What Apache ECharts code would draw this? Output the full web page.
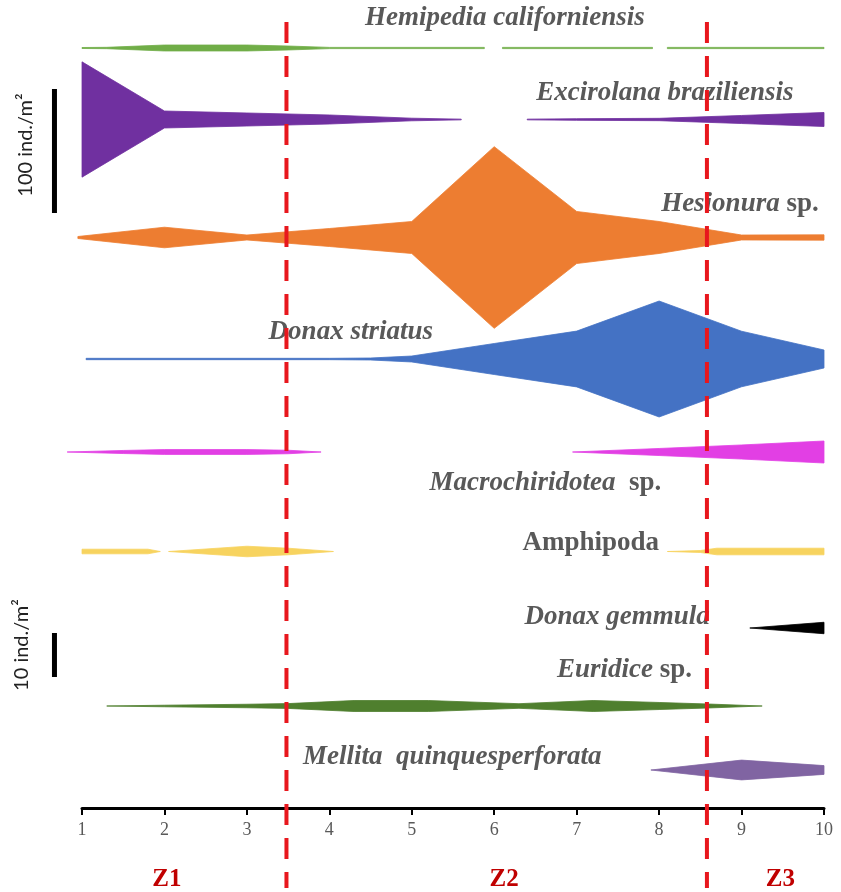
<!DOCTYPE html>
<html><head><meta charset="utf-8">
<script src="https://cdn.jsdelivr.net/npm/echarts@6/dist/echarts.min.js"></script>
<style>html,body{margin:0;padding:0;background:#fff}#c{width:841px;height:892px}</style>
</head><body><div id="c"></div>
<script>
// ---------- DATA (abundance, ind./m2, full kite width; null = gap) ----------
const tickLabels = ['1','2','3','4','5','6','7','8','9','10'];
const zoneNames = ['Z1','Z2','Z3'];
const zoneLabelX = [2.03, 6.12, 9.47];
const zoneBoundaries = [3.48, 8.58];

const hemipediaX = [1, 1.3, 2, 3, 3.5, 4, 5.88, 6, 6.1, 7.92, 8, 8.1, 10];
const hemipediaV = [0.8, 1.1, 4.8, 4.8, 3.2, 1, 1, null, 1, 1, null, 1, 1];

const excirolanaX = [1, 2, 3, 4, 5, 5.6, 6, 6.4, 7, 8, 9, 10];
const excirolanaV = [93, 13.7, 10.5, 7.3, 2.1, 0.6, null, 0.6, 1.3, 1.9, 6.5, 11.3];

const hesionuraX = [0.95, 2, 3, 4, 5, 6, 7, 8, 9, 10];
const hesionuraV = [1.6, 16.6, 4, 14.5, 25.8, 146.5, 42, 25.8, 4, 4.3];

const donaxStriatusX = [1.05, 4, 4.5, 5, 6, 7, 8, 9, 10];
const donaxStriatusV = [1.1, 1.1, 1.6, 4.8, 25, 45, 93.5, 44.8, 14.5];

const macroX = [0.82, 1.5, 2, 3, 3.5, 3.9, 5, 6.95, 8, 9, 10];
const macroV = [0, 0.7, 1.1, 1.1, 0.8, 0, null, 0, 1.6, 3.2, 5];

const amphipodaX = [1, 1.8, 1.95, 2, 2.05, 3, 3.5, 4.05, 6, 8.1, 8.5, 8.7, 10];
const amphipodaV = [1.05, 1.05, 0, null, 0, 2.4, 1.5, 0, null, 0, 0.45, 1.5, 1.5];

const donaxGemmulaX = [9.1, 10];
const donaxGemmulaV = [0, 2.6];

const euridiceX = [1.3, 2, 3, 3.5, 4.3, 5.2, 6.3, 7.2, 8, 8.6, 9.25];
const euridiceV = [0, 0.36, 0.8, 1.1, 2.5, 2.5, 1.05, 2.5, 1.6, 0.9, 0];

const mellitaX = [7.9, 9, 10];
const mellitaV = [0, 4.5, 2];

const scaleBarValues = [100, 10];
const scaleBarTexts = ['100 ind./m\u00B2', '10 ind./m\u00B2'];

// ---------- LAYOUT / STYLE ----------
const unitPerInd = {top: 1.24, bottom: 4.4};   // y-axis units per ind./m2
const species = [
  {xs: hemipediaX, vs: hemipediaV, row: 48, scale: 'top', color: '#70ad47',
   label: '{i|Hemipedia californiensis}', lx: 6.13, ly: 18},
  {xs: excirolanaX, vs: excirolanaV, row: 119.5, scale: 'top', color: '#7030a0',
   label: '{i|Excirolana braziliensis}', lx: 8.07, ly: 93},
  {xs: hesionuraX, vs: hesionuraV, row: 237.5, scale: 'top', color: '#ed7d31',
   label: '{i|Hesionura}{n| sp.}', lx: 8.98, ly: 204},
  {xs: donaxStriatusX, vs: donaxStriatusV, row: 359, scale: 'top', color: '#4472c4',
   label: '{i|Donax striatus}', lx: 4.26, ly: 332},
  {xs: macroX, vs: macroV, row: 452, scale: 'bottom', color: '#e23fe4',
   label: '{i|Macrochiridotea}{n|  sp.}', lx: 6.62, ly: 483},
  {xs: amphipodaX, vs: amphipodaV, row: 551.5, scale: 'bottom', color: '#f7d35f',
   label: '{n|Amphipoda}', lx: 7.17, ly: 543},
  {xs: donaxGemmulaX, vs: donaxGemmulaV, row: 628, scale: 'bottom', color: '#000000',
   label: '{i|Donax gemmula}', lx: 7.49, ly: 617},
  {xs: euridiceX, vs: euridiceV, row: 706, scale: 'bottom', color: '#4f7f2e',
   label: '{i|Euridice}{n| sp.}', lx: 7.58, ly: 670},
  {xs: mellitaX, vs: mellitaV, row: 770, scale: 'bottom', color: '#8064a2',
   label: '{i|Mellita  quinquesperforata}', lx: 5.49, ly: 757}
];
const scaleBars = [
  {center: 151, scale: 'top', x: 0.666, tx: 0.31, ty: 145},
  {center: 655, scale: 'bottom', x: 0.666, tx: 0.27, ty: 645}
];
const labelFont = {fontFamily: 'Liberation Serif', fontWeight: 'bold', fontSize: 27, fill: '#595959'};

function kiteSeries(sp) {
  return {
    type: 'custom', clip: false, silent: true,
    data: sp.xs.map((x, i) => [x, sp.vs[i] == null ? 0 : sp.vs[i]]),
    renderItem(params, api) {
      if (params.dataIndex !== 0) return null;
      const k = unitPerInd[sp.scale] / 2;
      const runs = []; let cur = [];
      sp.xs.forEach((x, i) => {
        const v = sp.vs[i];
        if (v == null) { if (cur.length) runs.push(cur); cur = []; }
        else cur.push([x, v]);
      });
      if (cur.length) runs.push(cur);
      const children = runs.map(run => {
        const up = run.map(([x, v]) => api.coord([x, sp.row - v * k]));
        const lo = run.slice().reverse().map(([x, v]) => api.coord([x, sp.row + v * k]));
        return {type: 'polygon', shape: {points: up.concat(lo)},
                style: {fill: sp.color, stroke: sp.color, lineWidth: 0.8}};
      });
      return {type: 'group', children};
    }
  };
}

const series = species.map(kiteSeries);

// species labels
series.push({
  type: 'custom', clip: false, silent: true, z: 5,
  data: species.map(sp => [sp.lx, sp.ly]),
  renderItem(params, api) {
    const sp = species[params.dataIndex];
    const p = api.coord([sp.lx, sp.ly]);
    return {type: 'text', x: p[0], y: p[1], style: {
      text: sp.label, align: 'center', verticalAlign: 'middle',
      rich: {
        i: Object.assign({fontStyle: 'italic'}, labelFont),
        n: Object.assign({fontStyle: 'normal'}, labelFont)
      }
    }};
  }
});

// scale bars
series.push({
  type: 'custom', clip: false, silent: true,
  data: scaleBars.map((b, i) => [b.x, scaleBarValues[i]]),
  renderItem(params, api) {
    const b = scaleBars[params.dataIndex];
    const v = scaleBarValues[params.dataIndex];
    const half = v * unitPerInd[b.scale] / 2;
    const p0 = api.coord([b.x, b.center - half]);
    const p1 = api.coord([b.x, b.center + half]);
    const t = api.coord([b.tx, b.ty]);
    return {type: 'group', children: [
      {type: 'rect', shape: {x: p0[0] - 2.5, y: p0[1], width: 5, height: p1[1] - p0[1]},
       style: {fill: '#000'}},
      {type: 'text', x: t[0], y: t[1], rotation: Math.PI / 2, style: {
        text: scaleBarTexts[params.dataIndex], align: 'center', verticalAlign: 'middle',
        fontFamily: 'Lato', fontSize: 20, fill: '#222'}}
    ]};
  }
});

// zone boundaries (dashed red)
series.push({
  type: 'custom', clip: false, silent: true, z: 10,
  data: zoneBoundaries.map(x => [x, 0]),
  renderItem(params, api) {
    const x = api.value(0);
    const a = api.coord([x, 22]);
    const b = api.coord([x, 888]);
    return {type: 'line', shape: {x1: a[0], y1: a[1], x2: b[0], y2: b[1]},
      style: {stroke: '#e8171d', lineWidth: 4, lineDash: [21, 13]}};
  }
});

// zone labels
series.push({
  type: 'custom', clip: false, silent: true,
  data: zoneLabelX.map(x => [x, 880]),
  renderItem(params, api) {
    const p = api.coord([api.value(0), api.value(1)]);
    return {type: 'text', x: p[0], y: p[1], style: {
      text: zoneNames[params.dataIndex], align: 'center', verticalAlign: 'middle',
      fontFamily: 'Liberation Serif', fontWeight: 'bold', fontSize: 25, fill: '#c00000'}};
  }
});

const chart = echarts.init(document.getElementById('c'));
chart.setOption({
  animation: false,
  backgroundColor: '#fff',
  grid: {left: 82, right: 17, top: 0, bottom: 84},
  xAxis: {
    type: 'value', min: 1, max: 10, interval: 1,
    axisLine: {show: true, onZero: false, lineStyle: {color: '#000', width: 3}},
    axisTick: {show: true, length: 7, lineStyle: {color: '#000', width: 2}},
    splitLine: {show: false},
    axisLabel: {margin: 13, fontFamily: 'Liberation Serif', fontSize: 18, color: '#595959',
      formatter: v => tickLabels[Math.round(v) - 1] || ''}
  },
  yAxis: {type: 'value', min: 0, max: 808, inverse: true, show: false},
  series
});
</script></body></html>
